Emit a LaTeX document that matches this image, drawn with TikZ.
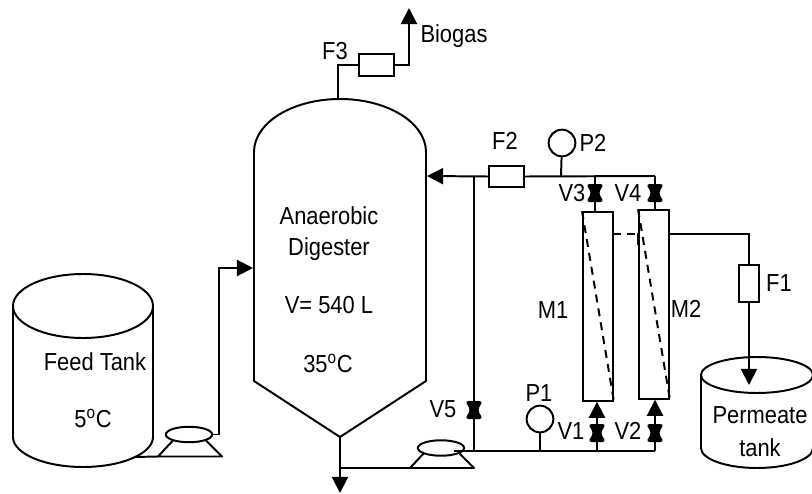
\documentclass[tikz,border=0pt]{standalone}
\usepackage{fontspec}
\setmainfont[FakeStretch=0.89]{Liberation Sans}
\usetikzlibrary{arrows.meta,shapes.geometric}
\tikzset{
    pipe/.style={line width=1.4pt},
    flow/.style={pipe,-{Triangle[length=11.5pt,width=11.5pt]}},
    lbl/.style={anchor=base,inner sep=0pt,font=\fontsize{17.5}{21}\selectfont},
    filterbox/.style={draw,pipe,fill=white,inner sep=0pt,minimum width=24.9pt,minimum height=15pt},
    gauge/.style={draw,pipe,circle,inner sep=0pt,minimum size=19pt},
    head/.style={draw,pipe,ellipse,fill=white,inner sep=0pt,minimum width=33pt,minimum height=11pt},
    module/.style={draw,pipe,inner sep=0pt,minimum width=21.3pt,minimum height=134pt},
    valve/.pic={\fill[rounded corners=2.4pt] (-9,-9) -- (9,-9) -- (3.5,0) -- (9,9) -- (-9,9) -- (-3.5,0) -- cycle;},
    pumpbase/.pic={\draw[pipe,line join=round] (-16,6) -- (-31,22) -- (33,22) -- (17,6);}
}
\begin{document}
\begin{tikzpicture}[x=0.025cm,y=-0.025cm]
    \clip (0,0) rectangle (812,494);
    % tanks
    \draw[pipe] (13,306) -- (13,437) arc[start angle=180,end angle=0,x radius=70,y radius=30] -- (153,306);
    \draw[pipe] (83,306) ellipse [x radius=70,y radius=32];
    \draw[pipe] (701,375) -- (701,448) arc[start angle=180,end angle=0,x radius=56,y radius=20] -- (813,375);
    \draw[pipe] (757,375) ellipse [x radius=56,y radius=18];
    % digester
    \draw[pipe] (254,152) arc[start angle=180,end angle=360,x radius=86,y radius=53] -- (426,381) -- (340,437) -- (254,381) -- cycle;
    \coordinate (feedOut) at (134,457);
    \coordinate (digIn) at (253,268);
    \coordinate (digTop) at (338,99);
    \coordinate (digRet) at (427,176);
    \coordinate (digBot) at (340,437);
    \coordinate (drain) at (340,493);
    \coordinate (gasOut) at (409,8);
    \coordinate (drainTee) at (340,468);
    % pumps
    \pic at (189,434.5) {pumpbase};
    \pic at (441,446) {pumpbase};
    \node[head] (pumpA) at (189,434.5) {};
    \node[head] (pumpB) at (441,448) {};
    \coordinate (pumpAin) at (158,456.5);
    \coordinate (pumpBin) at (410,468);
    % junctions
    \coordinate (topR) at (655,176);
    \coordinate (topV) at (595,176);
    \coordinate (topP) at (561,176);
    \coordinate (topL) at (474,176);
    \coordinate (botR) at (655,451);
    \coordinate (botV) at (597,451);
    \coordinate (botP) at (540,451);
    \coordinate (botL) at (474,451);
    % boxes
    \node[filterbox] (boxF3) at (376.5,65) {};
    \node[filterbox] (boxF2) at (506.5,176.5) {};
    \node[filterbox,minimum width=14.5pt,minimum height=26.3pt] (boxF1) at (749,283.5) {};
    \node[gauge] (gaugeP2) at (562,143) {};
    \node[gauge] (gaugeP1) at (540,419) {};
    \node[module] (modM1) at (598,306.5) {};
    \node[module] (modM2) at (654,304.5) {};
    \coordinate (sideA) at (613,234);
    \coordinate (sideB) at (639,234);
    \coordinate (sideC) at (669,234);
    \coordinate (tipF1) at (749,385);
    % pipes
    \draw[pipe] (feedOut) -- (pumpAin);
    \draw[flow] (pumpA.east) -- ++(6,0) |- (digIn);
    \draw[pipe] (digTop) |- (boxF3.west);
    \draw[flow] (boxF3.east) -| (gasOut);
    \draw[flow] (digBot) -- (drain);
    \draw[pipe] (drainTee) -- (pumpBin);
    \draw[pipe] (pumpB.-30 |- botR) -- (botR);
    \draw[pipe] (topR) -- (boxF2.east);
    \draw[flow] (boxF2.west) -- (digRet);
    \draw[pipe] (botL) -- (topL);
    \draw[pipe] (topP) -- (gaugeP2);
    \draw[pipe] (botP) -- (gaugeP1);
    \draw[pipe] (topV) -- (topV |- modM1.north);
    \draw[pipe] (topR) -- (topR |- modM2.north);
    \draw[flow] (botV) -- (botV |- modM1.south);
    \draw[flow] (botR) -- (botR |- modM2.south);
    \draw[pipe] (sideC) -| (boxF1.north);
    \draw[flow] (boxF1.south) -- (tipF1);
    % hollow fibre lines
    \draw[pipe,dash pattern=on 5.7pt off 4.3pt] (modM1.north west) -- (modM1.south east);
    \draw[pipe,dash pattern=on 5.7pt off 4.3pt] (modM2.north west) -- (modM2.south east);
    \draw[pipe,dash pattern=on 5.7pt off 4.3pt] (sideA) -- (sideB);
    \draw[pipe] (637.5,233) -- (637.5,245);
    % valves
    \foreach \x/\y in {474/410,597/433,655/433,595/193,655/193}
    \pic at (\x,\y) {valve};
    % labels
    \node[lbl] (lblBiogas) at (454,42) {Biogas};
    \node[lbl] (lblF3) at (335,59) {F3};
    \node[lbl] (lblF2) at (505,149) {F2};
    \node[lbl] (lblF1) at (779,291) {F1};
    \node[lbl] (lblP2) at (593,151) {P2};
    \node[lbl] (lblP1) at (539,401) {P1};
    \node[lbl] (lblV3) at (572,201) {V3};
    \node[lbl] (lblV4) at (628,201) {V4};
    \node[lbl] (lblV5) at (443,417) {V5};
    \node[lbl] (lblV1) at (571,439) {V1};
    \node[lbl] (lblV2) at (628,439) {V2};
    \node[lbl] (lblM1) at (553,318) {M1};
    \node[lbl] (lblM2) at (686,317) {M2};
    \node[lbl] (lblFeed) at (95,370) {Feed Tank};
    \node[lbl] (lblFeedT) at (93,427) {5\textsuperscript{o}C};
    \node[lbl] (lblPerm) at (760,423) {Permeate};
    \node[lbl] (lblPermB) at (760,456) {tank};
    \node[lbl] (lblDig) at (329,224) {Anaerobic};
    \node[lbl] (lblDigB) at (329,255) {Digester};
    \node[lbl] (lblDigV) at (329,313) {V= 540 L};
    \node[lbl] (lblDigT) at (328,372) {35\textsuperscript{o}C};
\end{tikzpicture}
\end{document}
